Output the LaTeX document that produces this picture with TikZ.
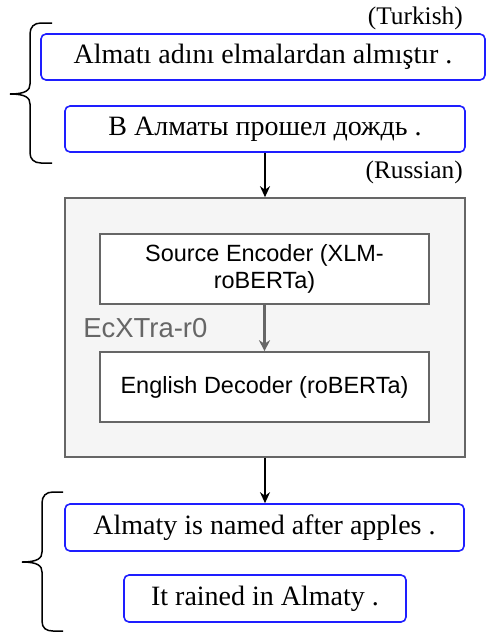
\documentclass[tikz,border=0pt]{standalone}
\usepackage{fontspec}
\setmainfont{Liberation Serif}
\newfontfamily\sansf{Liberation Sans}
\usetikzlibrary{arrows.meta}
\definecolor{bluebox}{RGB}{30,30,255}
\definecolor{grayline}{RGB}{102,102,102}
\definecolor{grayfill}{RGB}{245,245,245}
\def\u{0.75pt}
\tikzset{
  sent/.style={draw=bluebox, line width=1.6*\u, rounded corners=5*\u, fill=white, inner sep=0pt,
    font={\fontsize{21}{25}\selectfont}},
  lang/.style={inner sep=0pt, font={\fontsize{19}{22}\selectfont}},
  inner/.style={draw=grayline, line width=1.6*\u, fill=white, inner sep=0pt, align=center,
    font={\sansf\fontsize{17.6}{20.5}\selectfont}},
  arr/.style={line width=1.8*\u, -{Stealth[length=11*\u, width=10*\u]}},
  grayarr/.style={draw=grayline, line width=2.4*\u, -{Stealth[length=11*\u, width=11*\u, fill=grayline]}},
  brace/.style={line width=1.5*\u}
}
\begin{document}
\begin{tikzpicture}[x=0.75pt, y=-0.75pt]
\useasboundingbox (0,0) rectangle (487,632);
% source sentences
\node[sent, minimum width=444*\u, minimum height=46*\u] (tr) at (263,57) {Almatı adını elmalardan almıştır .};
\node[sent, minimum width=400*\u, minimum height=46*\u] (ru) at (265,129) {В Алматы прошел дождь .};
\node[lang, anchor=east] (trl) at (463,18) {(Turkish)};
\node[lang, anchor=east] (rul) at (463,172) {(Russian)};
% brace top
\draw[brace] (52,23) -- (41,23) .. controls (34,23) and (30,27) .. (30,34) -- (30,84)
  .. controls (30,90) and (26,94) .. (10,94) .. controls (26,94) and (30,98) .. (30,104)
  -- (30,153) .. controls (30,159) and (34,163) .. (41,163) -- (52,163);
% model
\node[draw=grayline, line width=1.6*\u, fill=grayfill, minimum width=400*\u, minimum height=259*\u, inner sep=0pt] (model) at (265,327.5) {};
\node[inner, minimum width=329*\u, minimum height=70*\u] (enc) at (264.5,269) {Source Encoder (XLM-\\roBERTa)};
\node[inner, minimum width=329*\u, minimum height=70*\u] (dec) at (264.5,387) {English Decoder (roBERTa)};
\node[anchor=west, inner sep=0pt, text=grayline, font={\sansf\fontsize{20.6}{24}\selectfont}] (lbl) at (83,328) {EcXTra-r0};
\draw[grayarr] (enc.south) -- (dec.north);
% outputs
\node[sent, minimum width=399*\u, minimum height=47*\u] (o1) at (264.5,527.5) {Almaty is named after apples .};
\node[sent, minimum width=282*\u, minimum height=47*\u] (o2) at (265,598.5) {It rained in Almaty .};
\draw[brace] (63,492) -- (53,492) .. controls (46,492) and (42,496) .. (42,503) -- (42,552)
  .. controls (42,558) and (38,562) .. (22,562) .. controls (38,562) and (42,566) .. (42,572)
  -- (42,621) .. controls (42,628) and (46,631) .. (53,631) -- (63,631);
% arrows
\draw[arr] (ru.south -| model.north) -- (model.north);
\draw[arr] (model.south) -- (model.south |- o1.north);
\end{tikzpicture}
\end{document}
